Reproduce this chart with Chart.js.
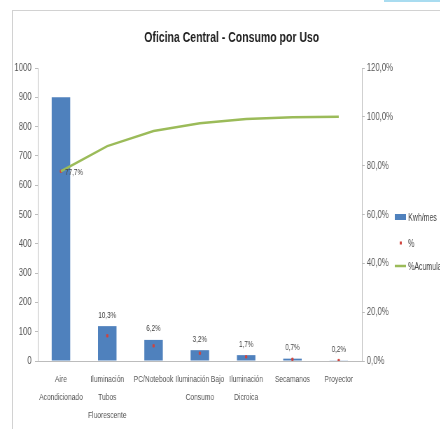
<!DOCTYPE html>
<html lang="es">
<head>
<meta charset="UTF-8" />
<title>Oficina Central - Consumo por Uso</title>
<script src="https://cdn.jsdelivr.net/npm/chart.js"></script>
<style>
  html, body { margin: 0; padding: 0; background: #fff; }
  #frame { position: relative; width: 440px; height: 429px; overflow: hidden; }
  #frame .border { position: absolute; left: 12px; top: 10px; width: 440px; height: 430px;
    border-top: 1px solid #d2d2d2; border-left: 1px solid #d2d2d2; }
  #frame .tab { position: absolute; left: 384px; top: 0; width: 60px; height: 2px; background: #a9dcf0; }
  /* the sheet chart is narrower than it is drawn, so squeeze it horizontally */
  #chart { position: absolute; left: 0; top: 0; transform: scaleX(0.7); transform-origin: 0 0; }
</style>
</head>
<body>
<div id="frame">
  <div class="border"></div>
  <div class="tab"></div>
  <canvas id="chart" width="629" height="429"></canvas>
</div>

<script>
  const categories = [
    ['Aire', 'Acondicionado'],
    ['Iluminación', 'Tubos', 'Fluorescente'],
    'PC/Notebook',
    ['Iluminación Bajo', 'Consumo'],
    ['Iluminación', 'Dicroica'],
    'Secamanos',
    'Proyector'
  ];
  const kwhMes = [900, 119, 72, 37, 20, 8, 2.3];
  const porcentaje = [77.7, 10.3, 6.2, 3.2, 1.7, 0.7, 0.2];
  const acumulado = [77.7, 88.0, 94.2, 97.4, 99.1, 99.8, 100.0];
  const seriesNames = ['Kwh/mes', '%', '%Acumulado'];
  const chartTitle = 'Oficina Central - Consumo por Uso';

  const FONT = "'Liberation Sans Narrow', 'Liberation Sans', Arial, sans-serif";
  const BLUE = '#4f81bd', RED = '#d0453f', GREEN = '#9bbb59', AXIS = '#bcbcbc';

  const pct = v => v.toFixed(1).replace('.', ',') + '%';

  Chart.defaults.font.family = FONT;
  Chart.defaults.color = '#555';

  // title, legend and the % labels are painted by hand
  const decor = {
    id: 'decor',
    afterDatasetsDraw(chart) {
      const ctx = chart.ctx;
      ctx.save();

      // % labels
      const bars = chart.getDatasetMeta(0).data;
      const pts = chart.getDatasetMeta(1).data;
      ctx.fillStyle = '#444';
      ctx.font = '9px ' + FONT;
      ctx.textBaseline = 'middle';
      pts.forEach((p, i) => {
        const txt = pct(porcentaje[i]);
        if (i === 0) {
          ctx.textAlign = 'left';
          ctx.fillText(txt, p.x + 6, p.y + 1);
        } else {
          ctx.textAlign = 'center';
          ctx.fillText(txt, p.x, Math.min(bars[i].y, p.y) - 11);
        }
      });

      // title
      ctx.fillStyle = '#1e1e1e';
      ctx.font = 'bold 15px ' + FONT;
      ctx.textAlign = 'center';
      ctx.fillText(chartTitle, 331, 38);

      // legend
      const lx = 564, tx = 583, rows = [217, 243, 266];
      ctx.font = '10px ' + FONT;
      ctx.textAlign = 'left';
      ctx.fillStyle = BLUE;
      ctx.fillRect(lx, rows[0] - 3, 16, 6);
      ctx.fillStyle = RED;
      ctx.fillRect(lx + 7, rows[1] - 1.5, 3, 3);
      ctx.strokeStyle = GREEN;
      ctx.lineWidth = 2.5;
      ctx.beginPath();
      ctx.moveTo(lx, rows[2]);
      ctx.lineTo(lx + 16, rows[2]);
      ctx.stroke();
      ctx.fillStyle = '#444';
      seriesNames.forEach((n, i) => ctx.fillText(n, tx, rows[i] + 1));

      ctx.restore();
    }
  };

  new Chart(document.getElementById('chart'), {
    data: {
      labels: categories,
      datasets: [
        {
          type: 'bar',
          label: seriesNames[0],
          data: kwhMes,
          backgroundColor: BLUE,
          barPercentage: 0.4,
          categoryPercentage: 1,
          yAxisID: 'y',
          order: 3
        },
        {
          type: 'line',
          label: seriesNames[1],
          data: porcentaje,
          showLine: false,
          pointStyle: 'rect',
          pointRadius: 1.6,
          pointBackgroundColor: RED,
          pointBorderColor: RED,
          yAxisID: 'y1',
          order: 2
        },
        {
          type: 'line',
          label: seriesNames[2],
          data: acumulado,
          borderColor: GREEN,
          borderWidth: 2.5,
          pointRadius: 0,
          tension: 0,
          yAxisID: 'y1',
          order: 1
        }
      ]
    },
    options: {
      responsive: false,
      animation: false,
      layout: { padding: { top: 68, left: 0, right: 0, bottom: 0 } },
      plugins: {
        legend: { display: false },
        title: { display: false },
        tooltip: { enabled: false }
      },
      scales: {
        x: {
          grid: { drawOnChartArea: false, drawTicks: false },
          border: { color: AXIS },
          ticks: { padding: 10, maxRotation: 0, autoSkip: false,
            font: { size: 9.5, lineHeight: 1.85 } },
          afterFit: s => { s.height = 68; }
        },
        y: {
          position: 'left',
          min: 0, max: 1000,
          grid: { drawOnChartArea: false, tickLength: 4, color: AXIS },
          border: { color: AXIS },
          ticks: { stepSize: 100, padding: 5, font: { size: 11 }, callback: v => String(v) },
          afterFit: s => { s.width = 54; }
        },
        y1: {
          position: 'right',
          min: 0, max: 120,
          grid: { drawOnChartArea: false, tickLength: 4, color: AXIS },
          border: { color: AXIS },
          ticks: { stepSize: 20, padding: 3, font: { size: 11 }, callback: v => pct(v) },
          afterFit: s => { s.width = 112; }
        }
      }
    },
    plugins: [decor]
  });
</script>
</body>
</html>
